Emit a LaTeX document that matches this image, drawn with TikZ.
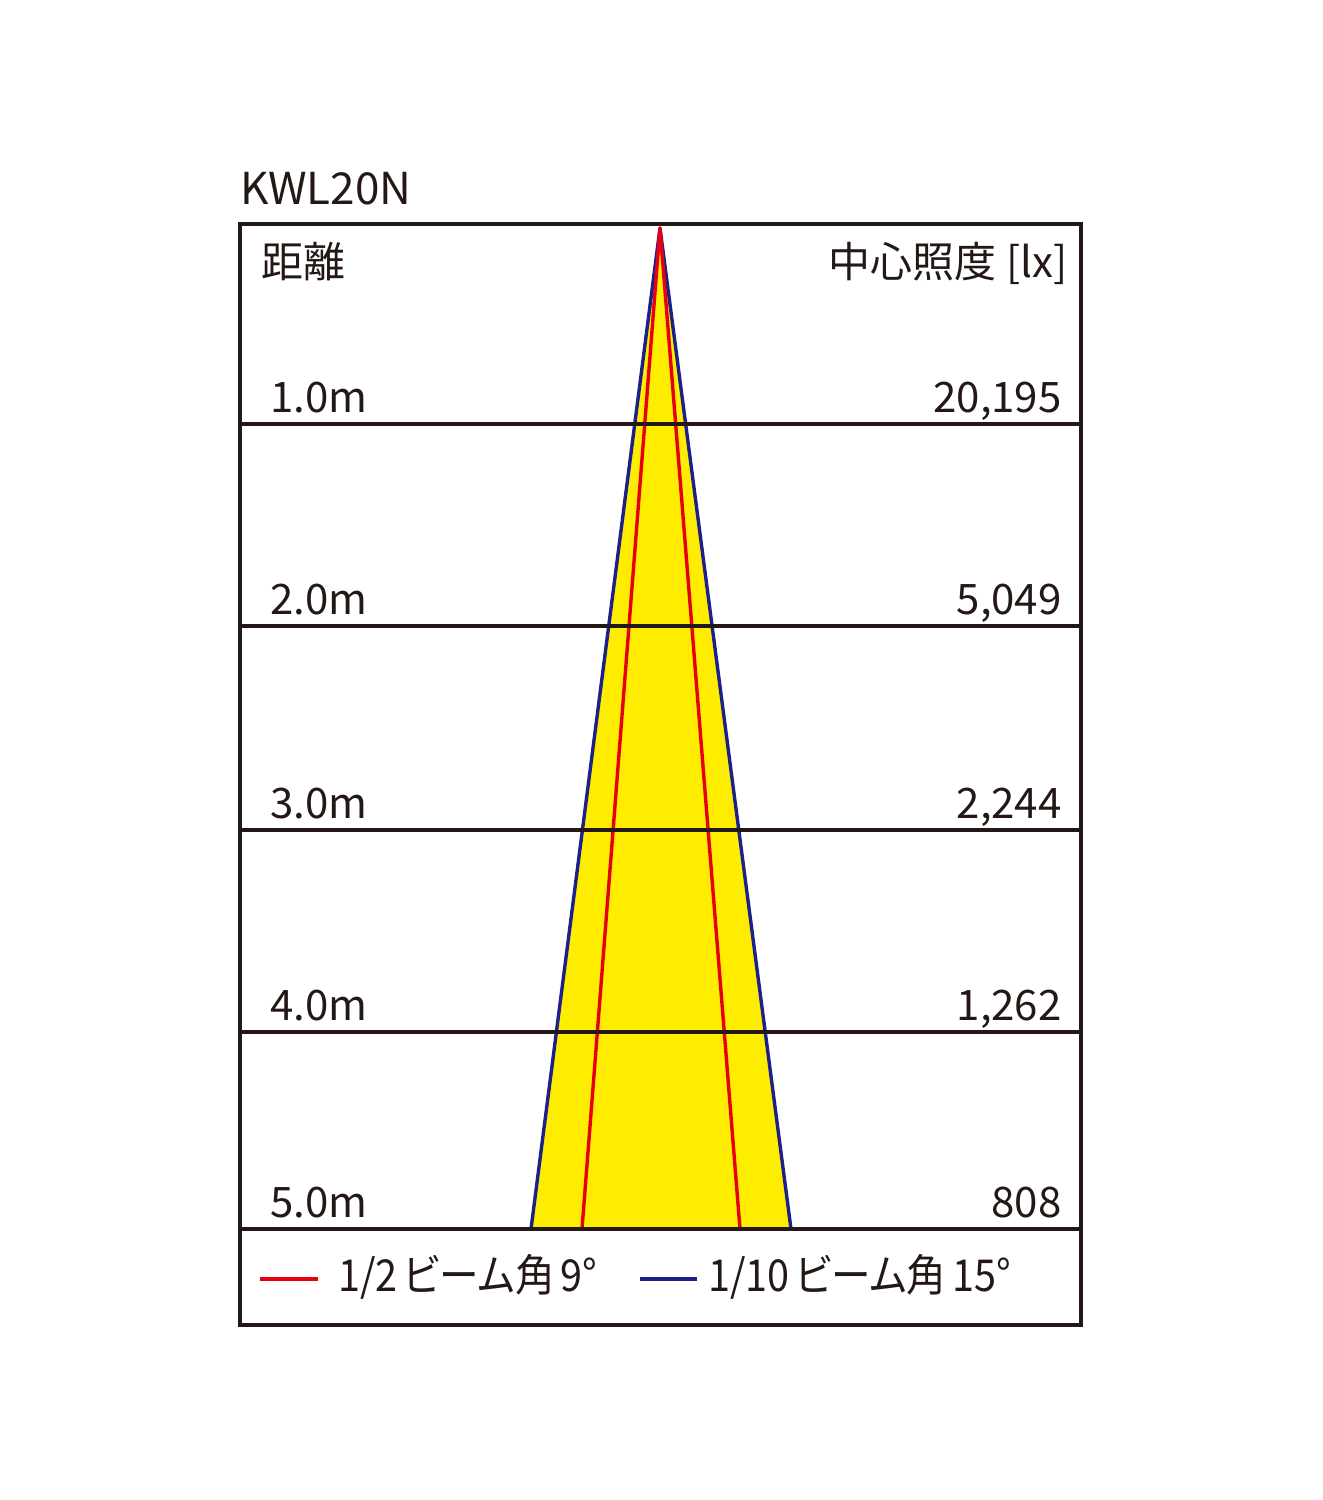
\documentclass[tikz,border=0pt]{standalone}
\usepackage{fontspec}
\setmainfont{Noto Sans CJK JP}
\newfontfamily\paltfont[RawFeature=+palt]{Noto Sans CJK JP}
\definecolor{ink}{HTML}{231815}
\definecolor{beamyellow}{HTML}{FFED00}
\definecolor{halfred}{HTML}{E60012}
\definecolor{tenthblue}{HTML}{1D2088}

\begin{document}
\begin{tikzpicture}[x=0.5pt,y=0.5pt,
  rule/.style={ink, line width=1.6pt},
  beamline/.style={line width=1.7pt, line join=round},
  label/.style={inner sep=0pt, text=ink, font=\fontsize{21}{25}\selectfont},
  legendtext/.style={label, anchor=base west, xscale=0.9, font=\paltfont\fontsize{22}{26}\selectfont}]
\useasboundingbox (0,0) rectangle (1323,-1500);
\coordinate (apex) at (660,-228);
\coordinate (blueL) at (531,-1229);
\coordinate (blueR) at (791,-1229);
\coordinate (redL) at (582,-1229);
\coordinate (redR) at (740,-1229);
\fill [beamyellow] (apex) -- (blueL) -- (blueR) -- cycle;
\draw [beamline, tenthblue] (blueL) -- (apex) -- (blueR);
\draw [beamline, halfred] (redL) -- (apex) -- (redR);
\foreach \y/\d/\v in {424/1.0m/{20,195}, 626/2.0m/{5,049}, 830/3.0m/{2,244}, 1032/4.0m/{1,262}, 1229/5.0m/808} {
  \draw [rule] (240,-\y) -- (1081,-\y);
  \node [label, anchor=base west] (d\y) at (270,-\y+12) {\d};
  \node [label, anchor=base east] (v\y) at (1062,-\y+12) {\v};
}
\draw [rule] (240,-224) rectangle (1081,-1325);
\node [label, anchor=base west, font=\fontsize{22}{26}\selectfont] (title) at (240,-204) {KWL20N};
\node [label, anchor=base west] (dist) at (261,-277) {距離};
\node [label, anchor=base east] (lux) at (1068,-277) {中心照度 [lx]};
\coordinate (redA) at (260,-1279);
\coordinate (redB) at (318,-1279);
\coordinate (blueA) at (640,-1279);
\coordinate (blueB) at (697,-1279);
\draw [beamline, halfred] (redA) -- (redB);
\draw [beamline, tenthblue] (blueA) -- (blueB);
\node [legendtext] (half) at (338,-1291) {1/2\hspace{0.15em}ビーム角\hspace{0.15em}9°};
\node [legendtext] (tenth) at (708,-1291) {1/10\hspace{0.15em}ビーム角\hspace{0.15em}15°};
\end{tikzpicture}
\end{document}
